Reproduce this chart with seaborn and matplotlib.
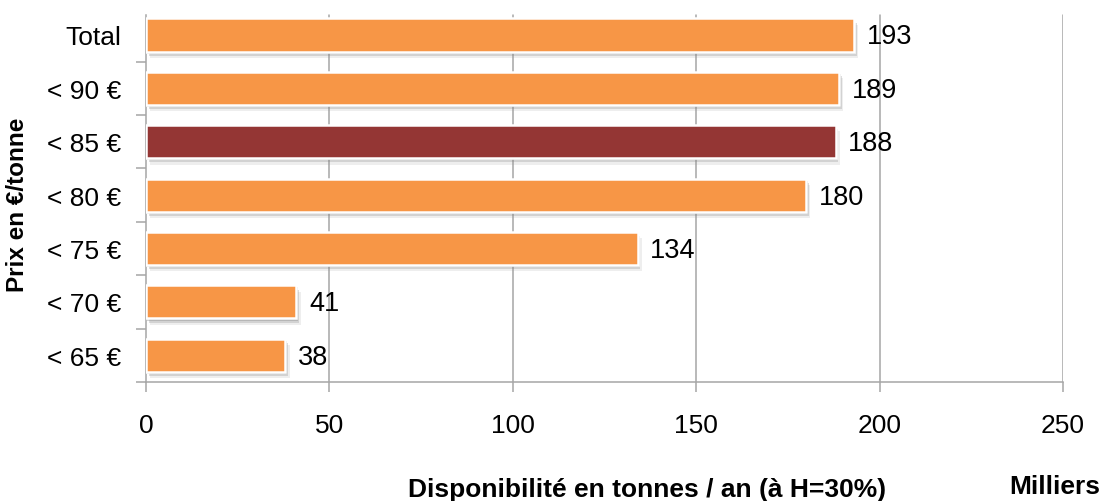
import matplotlib
matplotlib.use("Agg")
import matplotlib.pyplot as plt
import matplotlib.patheffects as pe
from matplotlib.ticker import FixedLocator
import seaborn as sns
import pandas as pd

# Price thresholds (€/tonne) and cumulative availability (thousand tonnes / year)
categories = ["Total", "< 90 €", "< 85 €", "< 80 €", "< 75 €", "< 70 €", "< 65 €"]
values = [193, 189, 188, 180, 134, 41, 38]
highlight = "< 85 €"
x_ticks = [0, 50, 100, 150, 200, 250]

ORANGE = "#F79646"
DARKRED = "#943634"
GRID = "#a6a6a6"

sns.set_theme(style="white")
plt.rcParams["font.family"] = ["Liberation Sans", "DejaVu Sans"]
plt.rcParams["text.color"] = "black"
plt.rcParams["xtick.color"] = "black"
plt.rcParams["ytick.color"] = "black"

df = pd.DataFrame({"cat": categories, "val": values})
palette = {c: (DARKRED if c == highlight else ORANGE) for c in categories}

fig = plt.figure(figsize=(11.04, 5.02), dpi=100)
ax_top, ax_bot = 9.3, 383
ax = fig.add_axes([146 / 1104, 1 - ax_bot / 502, (1063 - 146) / 1104, (ax_bot - ax_top) / 502])

sns.barplot(data=df, x="val", y="cat", hue="cat", palette=palette, orient="h",
            width=0.62, legend=False, saturation=1, ax=ax, zorder=3)

# soft drop shadow under each bar
shadow = [pe.SimplePatchShadow(offset=(1, -1.5), shadow_rgbFace="#6e6e6e", alpha=0.3),
          pe.SimplePatchShadow(offset=(2, -3), shadow_rgbFace="#7a7a7a", alpha=0.25),
          pe.SimplePatchShadow(offset=(3, -4.5), shadow_rgbFace="#9a9a9a", alpha=0.16),
          pe.Normal()]
for bar in ax.patches:
    bar.set_edgecolor("white")
    bar.set_linewidth(1.8)
    bar.set_path_effects(shadow)

# value labels at the end of each bar
for i, v in enumerate(values):
    ax.annotate(f"{v}", xy=(v, i), xytext=(9, -1), textcoords="offset points",
                ha="left", va="center", fontsize=19.5, color="black", zorder=5)

n = len(categories)
ax.set_xlim(0, 250)
ax.set_ylim(n - 0.5, -0.5)
ax.xaxis.set_major_locator(FixedLocator(x_ticks))
ax.set_xticklabels([str(t) for t in x_ticks])

# vertical gridlines and left axis line start a little below the axes top
frac_top = 1 - (16 - ax_top) / (ax_bot - ax_top)
for t in x_ticks[1:]:
    ax.axvline(t, ymin=0, ymax=frac_top, color=GRID, linewidth=1.1, zorder=1)
ax.grid(False)

for side in ["top", "right"]:
    ax.spines[side].set_visible(False)
for side in ["left", "bottom"]:
    ax.spines[side].set_color(GRID)
    ax.spines[side].set_linewidth(1.1)
ax.spines["left"].set_bounds(n - 0.5, -0.5 + (16 - ax_top) / ((ax_bot - ax_top) / n))

ax.tick_params(axis="x", which="major", direction="out", length=7, width=1.1,
               color=GRID, labelcolor="black", pad=15.5, labelsize=19, bottom=True)
ax.tick_params(axis="y", which="major", length=0, pad=18, labelsize=19,
               labelcolor="black", left=True)
ax.yaxis.set_minor_locator(FixedLocator([i + 0.5 for i in range(n)]))
ax.tick_params(axis="y", which="minor", direction="out", length=7, width=1.1,
               color=GRID, left=True)

ax.set_xlabel("")
ax.set_ylabel("")

fig.text(18 / 1104, 1 - 205 / 502, "Prix en €/tonne", rotation=90, ha="center",
         va="center", fontsize=17.5, fontweight="bold")
fig.text(647 / 1104, 1 - 490 / 502, "Disponibilité en tonnes / an (à H=30%)",
         ha="center", va="center", fontsize=19, fontweight="bold")
fig.text(1055 / 1104, 1 - 487 / 502, "Milliers", ha="center", va="center",
         fontsize=19, fontweight="bold")

fig.savefig("out.png", dpi=100, facecolor="white")
